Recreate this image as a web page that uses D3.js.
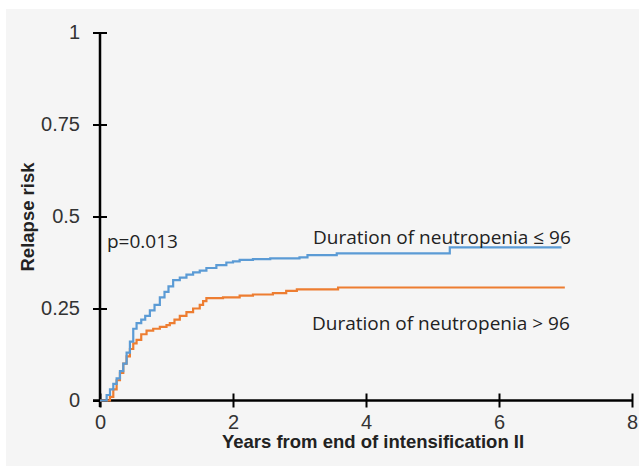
<!DOCTYPE html>
<html>
<head>
<meta charset="utf-8">
<script src="https://cdn.jsdelivr.net/npm/d3@7"></script>
<style>
  html, body { margin: 0; padding: 0; background: #fff; }
  svg { display: block; }
</style>
</head>
<body>
<svg id="chart" width="639" height="469"></svg>
<script>
// years from end of intensification II, cumulative relapse risk
var shortTimes = [0, 0.05, 0.1, 0.15, 0.2, 0.25, 0.3, 0.35, 0.4, 0.45, 0.5, 0.55, 0.62, 0.68, 0.75, 0.82, 0.9, 0.97, 1.03, 1.1, 1.2, 1.3, 1.4, 1.5, 1.6, 1.75, 1.9, 2.0, 2.1, 2.3, 2.56, 3.0, 3.12, 3.56, 5.26, 6.94];
var shortRisk  = [0, 0, 0.015, 0.03, 0.045, 0.06, 0.08, 0.1, 0.13, 0.16, 0.195, 0.21, 0.22, 0.23, 0.245, 0.26, 0.28, 0.295, 0.31, 0.327, 0.334, 0.342, 0.348, 0.353, 0.36, 0.368, 0.375, 0.378, 0.382, 0.384, 0.386, 0.389, 0.395, 0.40, 0.416, 0.416];

var longTimes = [0, 0.12, 0.15, 0.2, 0.25, 0.3, 0.35, 0.4, 0.45, 0.5, 0.55, 0.62, 0.7, 0.8, 0.9, 1.0, 1.05, 1.12, 1.2, 1.3, 1.4, 1.5, 1.55, 1.6, 1.85, 2.1, 2.3, 2.6, 2.8, 2.96, 3.58, 6.99];
var longRisk  = [0, 0, 0.01, 0.03, 0.055, 0.075, 0.1, 0.12, 0.14, 0.155, 0.165, 0.18, 0.19, 0.195, 0.2, 0.205, 0.21, 0.22, 0.23, 0.24, 0.25, 0.26, 0.27, 0.278, 0.28, 0.285, 0.288, 0.292, 0.298, 0.302, 0.307, 0.307];

var xTicks = [0, 2, 4, 6, 8];
var yTicks = [0, 0.25, 0.5, 0.75, 1];
var yTickLabels = ["0", "0.25", "0.5", "0.75", "1"];

var seriesNames = ["Duration of neutropenia \u2264 96", "Duration of neutropenia > 96"];
var pValue = "p=0.013";

var svg = d3.select("#chart");

// grey panel
svg.append("rect")
  .attr("x", 6).attr("y", 9)
  .attr("width", 633).attr("height", 457)
  .attr("fill", "#f5f5f5");

var x = d3.scaleLinear().domain([0, 8]).range([100, 632]);
var y = d3.scaleLinear().domain([0, 1]).range([400.5, 32.5]);

var axisFont = "'Liberation Sans', Arial, sans-serif";
var labelFont = "'Open Sans', 'Noto Sans', sans-serif";

// x axis
var xAxis = svg.append("g")
  .attr("transform", "translate(0," + y(0) + ")")
  .call(d3.axisBottom(x).tickValues(xTicks).tickSize(7).tickSizeOuter(0).tickPadding(7));
xAxis.select(".domain").remove();
xAxis.append("line")
  .attr("x1", 93).attr("x2", x(8))
  .attr("stroke", "#000").attr("stroke-width", 2.5);
xAxis.selectAll(".tick line")
  .attr("y1", -7).attr("y2", 7)
  .attr("stroke", "#000").attr("stroke-width", 2);
xAxis.selectAll(".tick text")
  .attr("font-family", axisFont).attr("font-size", 20).attr("fill", "#333");

// y axis
var yAxis = svg.append("g")
  .attr("transform", "translate(" + x(0) + ",0)")
  .call(d3.axisLeft(y).tickValues(yTicks).tickFormat(function(d, i) { return yTickLabels[i]; })
    .tickSize(7).tickSizeOuter(0).tickPadding(13));
yAxis.select(".domain").remove();
yAxis.append("line")
  .attr("y1", y(1)).attr("y2", 407)
  .attr("stroke", "#000").attr("stroke-width", 2.5);
yAxis.selectAll(".tick line")
  .attr("x1", -7).attr("x2", 7)
  .attr("stroke", "#000").attr("stroke-width", 2);
yAxis.selectAll(".tick text")
  .attr("font-family", axisFont).attr("font-size", 20).attr("fill", "#333");

// curves
var line = d3.line()
  .x(function(d) { return x(d[0]); })
  .y(function(d) { return y(d[1]); })
  .curve(d3.curveStepAfter);

svg.append("path")
  .datum(d3.zip(longTimes, longRisk))
  .attr("d", line)
  .attr("fill", "none")
  .attr("stroke", "#ed7d31")
  .attr("stroke-width", 2.2);

svg.append("path")
  .datum(d3.zip(shortTimes, shortRisk))
  .attr("d", line)
  .attr("fill", "none")
  .attr("stroke", "#5b9bd5")
  .attr("stroke-width", 2.2);

// annotations
svg.append("text")
  .attr("x", 107).attr("y", 248)
  .attr("font-family", labelFont).attr("font-size", 19).attr("fill", "#222")
  .text(pValue);

svg.append("text")
  .attr("x", 313).attr("y", 244)
  .attr("font-family", labelFont).attr("font-size", 19).attr("fill", "#222")
  .text(seriesNames[0]);

svg.append("text")
  .attr("x", 312).attr("y", 330)
  .attr("font-family", labelFont).attr("font-size", 19).attr("fill", "#222")
  .text(seriesNames[1]);

// axis titles
svg.append("text")
  .attr("x", 373).attr("y", 448)
  .attr("text-anchor", "middle")
  .attr("font-family", axisFont).attr("font-size", 18.5).attr("font-weight", "bold").attr("fill", "#222")
  .text("Years from end of intensification II");

svg.append("text")
  .attr("transform", "translate(34,217) rotate(-90)")
  .attr("text-anchor", "middle")
  .attr("font-family", axisFont).attr("font-size", 18.5).attr("font-weight", "bold").attr("fill", "#222")
  .text("Relapse risk");
</script>
</body>
</html>
